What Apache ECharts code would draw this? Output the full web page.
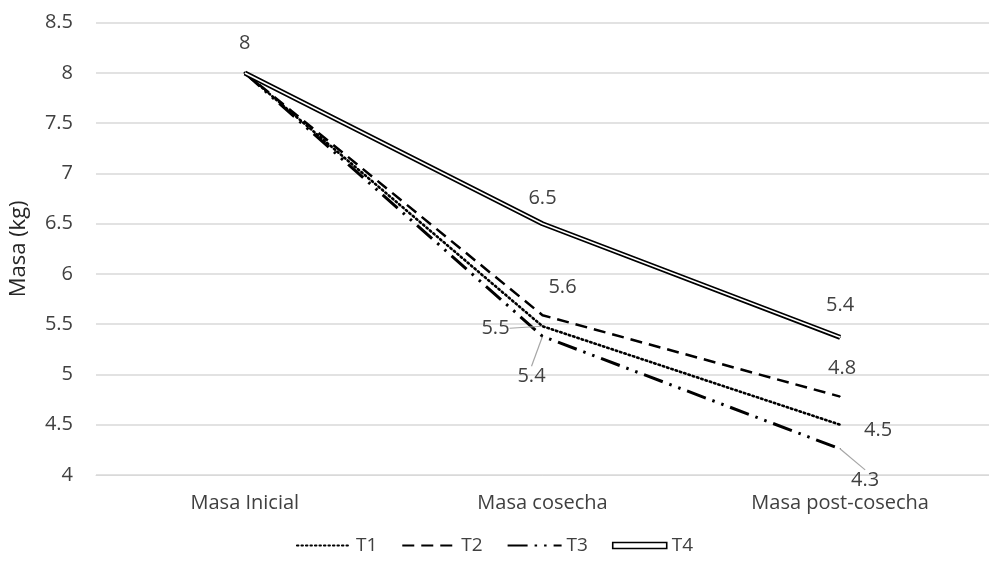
<!DOCTYPE html>
<html>
<head>
<meta charset="utf-8">
<script src="https://cdn.jsdelivr.net/npm/echarts@6/dist/echarts.min.js"></script>
<style>html,body{margin:0;padding:0;background:#fff}#c{width:989px;height:570px}</style>
</head>
<body>
<div id="c"></div>
<script>
const categories = ['Masa Inicial', 'Masa cosecha', 'Masa post-cosecha'];
const T1 = [8, 5.48, 4.5];
const T2 = [8, 5.59, 4.78];
const T3 = [8, 5.38, 4.26];
const T4 = [8, 6.5, 5.37];
const yTicks = { min: 4, max: 8.5, interval: 0.5 };

// label styling: [dx, dy, leaderLine] per point (null = no label)
const labelStyle = {
  T1: [null, [-47, 2, true], [38, 6, false]],
  T2: [null, [20, -28, false], [2, -28, false]],
  T3: [null, [-11, 40, true], [25, 31, true]],
  T4: [[0, -30, false], [0, -25, false], [0, -32, false]]
};

const font = '"Open Sans", "Liberation Sans", sans-serif';
const labelColor = '#404040';

function buildData(name, vals) {
  return vals.map((v, i) => {
    const s = labelStyle[name][i];
    const item = { value: v };
    if (s) {
      item.label = { show: true };
      if (s[2]) item.labelLine = { show: true, lineStyle: { color: '#a6a6a6', width: 1.2 } };
    } else {
      item.label = { show: false };
    }
    return item;
  });
}

function mkSeries(name, vals, lineStyle) {
  return {
    name: name,
    type: 'line',
    data: buildData(name, vals),
    symbol: 'circle',
    symbolSize: 1,
    itemStyle: { color: '#000' },
    lineStyle: lineStyle,
    label: {
      position: 'inside', fontSize: 20, fontFamily: font, color: labelColor,
      formatter: p => String(Math.round(p.value * 10) / 10)
    },
    labelLayout: function (p) {
      const s = labelStyle[name][p.dataIndex];
      if (!s) return {};
      return { dx: s[0], dy: s[1] };
    },
    emphasis: { disabled: true },
    z: 2
  };
}

const series = [
  mkSeries('T1', T1, { color: '#000', width: 2.6, type: [1.5, 3], cap: 'round' }),
  mkSeries('T2', T2, { color: '#000', width: 2.5, type: [12, 7] }),
  mkSeries('T3', T3, { color: '#000', width: 3, type: [20, 7, 2.5, 7, 2.5, 7] }),
  mkSeries('T4', T4, { color: '#000', width: 5 }),
  {
    name: 'T4inner',
    type: 'line',
    data: T4,
    symbol: 'none',
    lineStyle: { color: '#fff', width: 1.6 },
    emphasis: { disabled: true },
    z: 3
  }
];

const chart = echarts.init(document.getElementById('c'), null, { renderer: 'canvas' });
chart.setOption({
  animation: false,
  backgroundColor: '#fff',
  textStyle: { fontFamily: font },
  grid: { left: 96, top: 22.7, bottom: 95, width: 900, containLabel: false },
  legend: {
    bottom: 10,
    left: 'center',
    itemWidth: 54,
    itemHeight: 6,
    itemGap: 24,
    textStyle: { fontSize: 19, color: '#404040', fontFamily: font },
    itemStyle: { color: 'rgba(0,0,0,0)', borderWidth: 0 },
    data: [
      { name: 'T1' },
      { name: 'T2' },
      { name: 'T3' },
      { name: 'T4', icon: 'rect', itemStyle: { color: '#fff', borderColor: '#000', borderWidth: 1.6 } }
    ]
  },
  xAxis: {
    type: 'category',
    data: categories,
    boundaryGap: true,
    axisLine: { show: true, lineStyle: { color: '#d9d9d9', width: 1 } },
    axisTick: { show: false },
    axisLabel: { fontSize: 20, color: '#404040', margin: 18, fontFamily: font },
    splitLine: { show: false }
  },
  yAxis: {
    type: 'value',
    min: yTicks.min,
    max: yTicks.max,
    interval: yTicks.interval,
    name: 'Masa (kg)',
    nameLocation: 'middle',
    nameGap: 66,
    nameTextStyle: { fontSize: 22, color: '#262626', fontFamily: font },
    axisLine: { show: false },
    axisTick: { show: false },
    axisLabel: { fontSize: 20, color: '#404040', margin: 23, fontFamily: font },
    splitLine: { show: true, lineStyle: { color: '#d9d9d9', width: 1.5 } }
  },
  series: series
});
</script>
</body>
</html>
